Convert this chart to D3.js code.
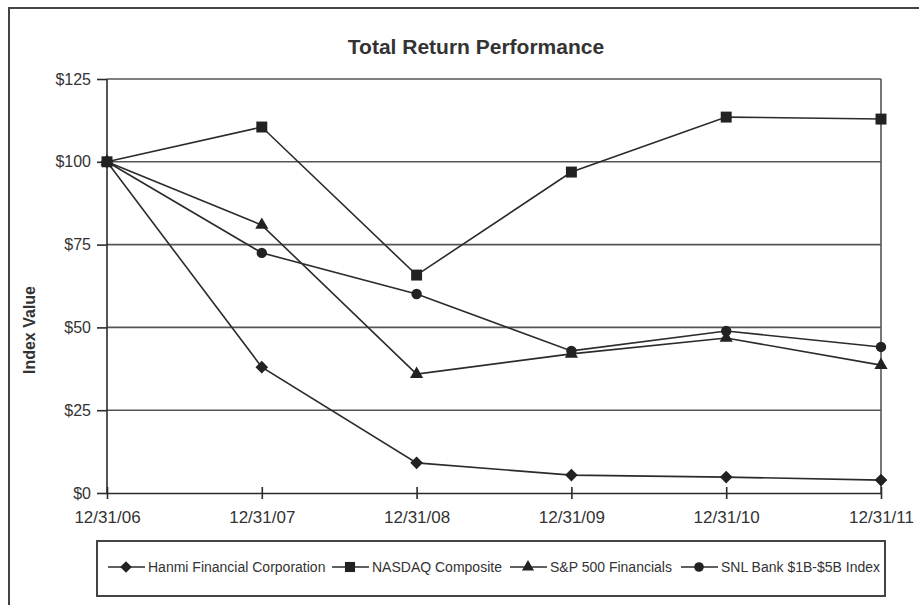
<!DOCTYPE html>
<html>
<head>
<meta charset="utf-8">
<script src="https://cdn.jsdelivr.net/npm/d3@7"></script>
<style>
  body { margin: 0; background: #fff; }
  text { font-family: "Liberation Sans", Arial, sans-serif; fill: #333; }
</style>
</head>
<body>
<div id="chart"></div>
<script>
var dates = ['12/31/06', '12/31/07', '12/31/08', '12/31/09', '12/31/10', '12/31/11'];
var hanmi = [100, 38.0, 9.1, 5.4, 4.8, 3.9];
var nasdaq = [100, 110.5, 65.8, 96.9, 113.5, 112.9];
var sp500fin = [100, 80.9, 35.9, 42.0, 46.8, 38.6];
var snlBank = [100, 72.5, 60.1, 42.9, 48.9, 44.1];
var seriesNames = ['Hanmi Financial Corporation', 'NASDAQ Composite', 'S&P 500 Financials', 'SNL Bank $1B-$5B Index'];
var yTicks = [0, 25, 50, 75, 100, 125];

var chart_width = 919;
var chart_height = 605;
var plotLeft = 107, plotRight = 881, plotTop = 79, plotBottom = 493;
var ink = '#2b2b2b';

var svg = d3.select('#chart')
  .append('svg')
  .attr('width', chart_width)
  .attr('height', chart_height);

// outer frame (only top + left show in the picture)
svg.append('path')
  .attr('d', 'M9,' + chart_height + 'V8H' + chart_width)
  .attr('fill', 'none')
  .attr('stroke', '#444')
  .attr('stroke-width', 2);

svg.append('text')
  .attr('x', 476)
  .attr('y', 54)
  .attr('text-anchor', 'middle')
  .style('font-size', '21px')
  .style('font-weight', 'bold')
  .text('Total Return Performance');

var x_scale = d3.scalePoint()
  .domain(dates)
  .range([plotLeft, plotRight]);

var y_scale = d3.scaleLinear()
  .domain([0, 125])
  .range([plotBottom, plotTop]);

// gridlines
svg.append('g')
  .selectAll('line')
  .data(yTicks.slice(1))
  .enter()
  .append('line')
  .attr('x1', plotLeft)
  .attr('x2', plotRight)
  .attr('y1', function(d) { return y_scale(d); })
  .attr('y2', function(d) { return y_scale(d); })
  .attr('stroke', '#555')
  .attr('stroke-width', 1.6);

// right border of plot
svg.append('line')
  .attr('x1', plotRight).attr('x2', plotRight)
  .attr('y1', plotTop).attr('y2', plotBottom)
  .attr('stroke', '#555')
  .attr('stroke-width', 1.6);

var y_axis = d3.axisLeft(y_scale)
  .tickValues(yTicks)
  .tickSize(10)
  .tickPadding(6)
  .tickFormat(function(d) { return '$' + d; });

var yg = svg.append('g')
  .attr('transform', 'translate(' + plotLeft + ',0)')
  .call(y_axis);
yg.selectAll('line, path').attr('stroke', ink).attr('stroke-width', 1.6);
yg.select('.domain').attr('d', 'M0,' + plotBottom + 'V' + plotTop);
yg.selectAll('text').style('font-size', '16px').attr('fill', '#333');

var x_axis = d3.axisBottom(x_scale)
  .tickSize(6)
  .tickPadding(12)
  .tickSizeOuter(0);

var xg = svg.append('g')
  .attr('transform', 'translate(0,' + plotBottom + ')')
  .call(x_axis);
xg.selectAll('line').attr('y1', -6).attr('y2', 6);
xg.selectAll('line, path').attr('stroke', ink).attr('stroke-width', 1.6);
xg.selectAll('text').style('font-size', '17px').attr('fill', '#333');

svg.append('text')
  .attr('transform', 'translate(35,' + 330 + ') rotate(-90)')
  .attr('text-anchor', 'middle')
  .style('font-size', '16px')
  .style('font-weight', 'bold')
  .text('Index Value');

// diamond as a square turned 45 degrees, like the original marker
var squareDiamond = {
  draw: function(context, size) {
    var r = Math.sqrt(size / 2);
    context.moveTo(0, -r);
    context.lineTo(r, 0);
    context.lineTo(0, r);
    context.lineTo(-r, 0);
    context.closePath();
  }
};

var allSeries = [hanmi, nasdaq, sp500fin, snlBank];
var symbols = [squareDiamond, d3.symbolSquare, d3.symbolTriangle, d3.symbolCircle];
var sizes = [80, 120, 75, 85];

var line = d3.line()
  .x(function(d, i) { return x_scale(dates[i]); })
  .y(function(d) { return y_scale(d); });

allSeries.forEach(function(s) {
  svg.append('path')
    .datum(s)
    .attr('d', line)
    .attr('fill', 'none')
    .attr('stroke', ink)
    .attr('stroke-width', 1.6);
});

allSeries.forEach(function(s, k) {
  svg.append('g')
    .selectAll('path')
    .data(s)
    .enter()
    .append('path')
    .attr('transform', function(d, i) {
      return 'translate(' + x_scale(dates[i]) + ',' + y_scale(d) + ')';
    })
    .attr('d', d3.symbol().type(symbols[k]).size(sizes[k]))
    .attr('fill', '#222');
});

// legend
svg.append('rect')
  .attr('x', 97).attr('y', 541)
  .attr('width', 788).attr('height', 55)
  .attr('fill', '#fff')
  .attr('stroke', '#444')
  .attr('stroke-width', 2);

var legendX = [108, 332, 510, 681];
var legendY = 567;
seriesNames.forEach(function(name, k) {
  var g = svg.append('g').attr('transform', 'translate(' + legendX[k] + ',' + legendY + ')');
  g.append('line')
    .attr('x1', 0).attr('x2', 37)
    .attr('stroke', ink).attr('stroke-width', 1.6);
  g.append('path')
    .attr('transform', 'translate(18,0)')
    .attr('d', d3.symbol().type(symbols[k]).size(sizes[k] * 0.85))
    .attr('fill', '#222');
  g.append('text')
    .attr('x', 40)
    .attr('y', 5)
    .style('font-size', '14px')
    .text(name);
});
</script>
</body>
</html>
